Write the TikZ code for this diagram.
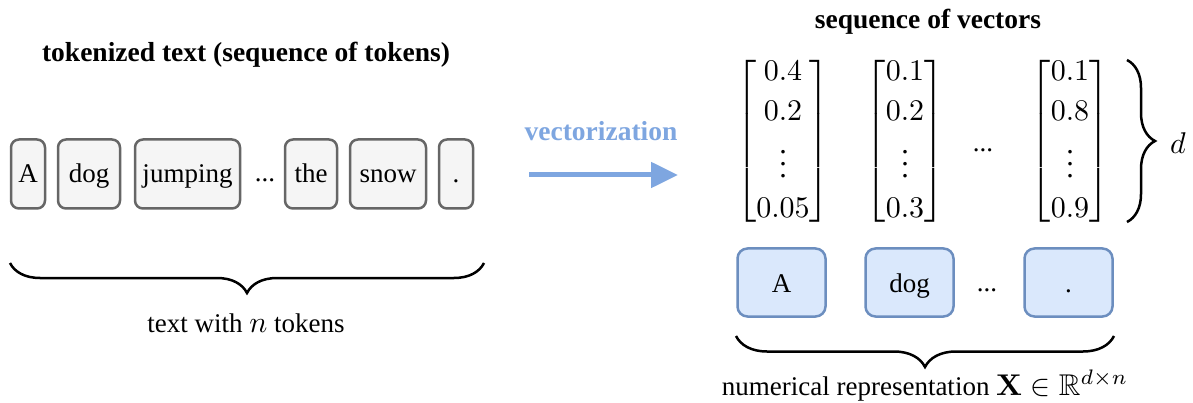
\documentclass[tikz,border=0pt]{standalone}
\usepackage{amsmath,amssymb}
\usepackage{graphicx}
\usepackage[no-math]{fontspec}
\setmainfont{Liberation Serif}
\usetikzlibrary{decorations.pathreplacing,arrows.meta}

\definecolor{tokborder}{HTML}{666666}
\definecolor{tokfill}{HTML}{F5F5F5}
\definecolor{vecborder}{HTML}{6C8EBF}
\definecolor{vecfill}{HTML}{DAE8FC}
\definecolor{arrowblue}{HTML}{7EA6E0}

% math set at 10pt and enlarged, so it keeps the weight of cmr10/cmmi10
\newcommand{\bigmath}[1]{\scalebox{3}{\fontsize{10}{12}\selectfont$#1$}}

\tikzset{
  base/.style={font=\fontsize{27}{32}\selectfont},
  title/.style={base, font=\fontsize{27.5}{32}\selectfont\bfseries},
  tok/.style={base, draw=tokborder, fill=tokfill, line width=2.5pt,
    rounded corners=8pt, inner sep=0pt, minimum height=69pt,
    text height=24pt, text depth=6pt},
  vecbox/.style={base, draw=vecborder, fill=vecfill, line width=2.5pt,
    rounded corners=10pt, inner sep=0pt, minimum width=88pt, minimum height=68pt,
    text height=24pt, text depth=5pt},
  vec/.style={inner sep=0pt},
  curly/.style={decorate, line width=2.5pt,
    decoration={brace, amplitude=#1}},
}

\begin{document}
\begin{tikzpicture}[x=1pt, y=-1pt]
  \useasboundingbox (0,0) rectangle (1193,403);

  % tokenized text
  \node[title] (ttitle) at (246,55) {tokenized text (sequence of tokens)};
  \node[tok, minimum width=34pt] (tA) at (28,174) {A};
  \node[tok, minimum width=62pt] (tdog) at (89,174) {dog};
  \node[tok, minimum width=105pt] (tjump) at (187.5,174) {jumping};
  \node[base] (tdots) at (265,180) {...};
  \node[tok, minimum width=52pt] (tthe) at (311,174) {the};
  \node[tok, minimum width=76pt] (tsnow) at (388,174) {snow};
  \node[tok, minimum width=34pt] (tdot) at (456,174) {.};

  \coordinate (lbR) at (484,263);
  \coordinate (lbL) at (10,263);
  \draw[curly=30pt] (lbR) -- (lbL);
  \node[base] (nlabel) at (246,323) {text with \bigmath{n} tokens};

  % vectorization arrow
  \node[title, text=arrowblue] (vlabel) at (601,131) {vectorization};
  \coordinate (arrS) at (529,175);
  \coordinate (arrE) at (678,175);
  \draw[draw=arrowblue, line width=5pt,
    -{Triangle[length=27pt,width=25pt]}] (arrS) -- (arrE);

  % sequence of vectors
  \node[title] (stitle) at (928,22) {sequence of vectors};
  {\renewcommand{\arraystretch}{1.1}
  \node[vec] (v1) at (783,141) {\bigmath{\begin{bmatrix}0.4\\0.2\\\vdots\\0.05\end{bmatrix}}};
  \node[vec] (v2) at (905,141) {\bigmath{\begin{bmatrix}0.1\\0.2\\\vdots\\0.3\end{bmatrix}}};
  \node[vec] (v3) at (1070,141) {\bigmath{\begin{bmatrix}0.1\\0.8\\\vdots\\0.9\end{bmatrix}}};
  }
  \node[base] (vdots) at (983,150) {...};

  \coordinate (rbT) at (1127,60);
  \coordinate (rbB) at (1127,222);
  \draw[curly=28pt] (rbT) -- (rbB);
  \node[vec] (dlabel) at (1178,143) {\bigmath{d}};

  % embedded tokens
  \node[vecbox] (eA) at (781.5,282.5) {A};
  \node[vecbox] (edog) at (909.5,282.5) {dog};
  \node[base] (edots) at (987,290) {...};
  \node[vecbox] (edot) at (1068.5,282.5) {.};

  \coordinate (bbR) at (1114,336);
  \coordinate (bbL) at (736,336);
  \draw[curly=31pt] (bbR) -- (bbL);
  \node[base] (xlabel) at (925,386) {numerical representation \bigmath{\mathbf{X}\in\mathbb{R}^{d\times n}}};
\end{tikzpicture}
\end{document}
